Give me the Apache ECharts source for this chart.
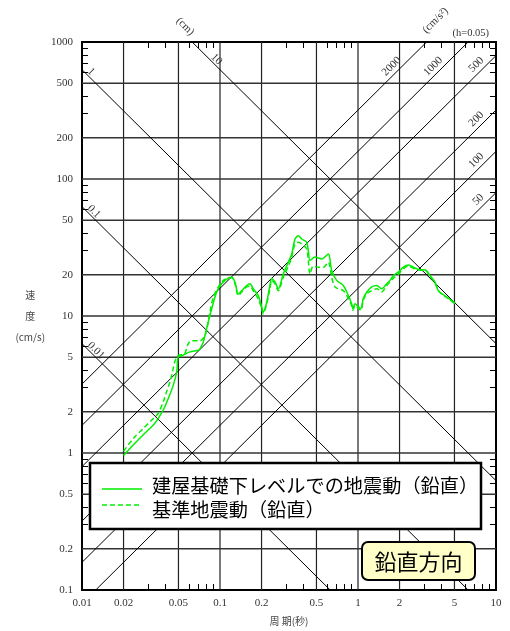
<!DOCTYPE html>
<html>
<head>
<meta charset="utf-8">
<script src="https://cdn.jsdelivr.net/npm/echarts@6/dist/echarts.min.js"></script>
<style>
html, body { margin: 0; padding: 0; background: #fff; }
#chart { width: 510px; height: 631px; }
</style>
</head>
<body>
<div id="chart"></div>
<script>
// 軸ラベル・目盛
const xLabels = [0.01, 0.02, 0.05, 0.1, 0.2, 0.5, 1, 2, 5, 10];
const yLabels = [0.1, 0.2, 0.5, 1, 2, 5, 10, 20, 50, 100, 200, 500, 1000];
const xMinor = [0.03, 0.04, 0.06, 0.07, 0.08, 0.09, 0.3, 0.4, 0.6, 0.7, 0.8, 0.9, 3, 4, 6, 7, 8, 9];
const yMinor = [0.3, 0.4, 0.6, 0.7, 0.8, 0.9, 3, 4, 6, 7, 8, 9, 30, 40, 60, 70, 80, 90, 300, 400, 600, 700, 800, 900];

// 変位 (cm) と加速度 (cm/s2) の斜線
const dispLines = [0.01, 0.1, 1, 10];
const accLines = [50, 100, 200, 500, 1000, 2000];

// 建屋基礎下レベルでの地震動（鉛直）
const periodA = [0.020, 0.0236, 0.0278, 0.0329, 0.0357, 0.0388, 0.0422, 0.0459, 0.0486, 0.0498,
    0.0528, 0.0606, 0.0696, 0.0716, 0.0757, 0.0779, 0.0822, 0.0871, 0.0946, 0.1028,
    0.1148, 0.1216, 0.1284, 0.1357, 0.1436, 0.156, 0.165, 0.174, 0.1894, 0.2006,
    0.206, 0.218, 0.230, 0.237, 0.2504, 0.2645, 0.2875, 0.3126, 0.331, 0.3496,
    0.3694, 0.391, 0.4246, 0.4365, 0.449, 0.4877, 0.5455, 0.6095, 0.6447, 0.701,
    0.7825, 0.8513, 0.8995, 0.92, 0.951, 1.046, 1.092, 1.156, 1.256, 1.366,
    1.486, 1.615, 1.706, 1.802, 1.959, 2.13, 2.315, 2.516, 2.81, 3.058,
    3.324, 3.614, 3.82, 4.15, 4.51, 5.05];
const velA = [0.96, 1.15, 1.36, 1.60, 1.79, 2.06, 2.50, 3.13, 3.92, 5.03,
    5.12, 5.47, 5.62, 5.78, 6.47, 7.23, 9.04, 11.3, 15.0, 17.2,
    18.9, 19.2, 17.7, 14.5, 15.3, 16.7, 17.2, 15.8, 14.1, 11.6,
    10.7, 12.6, 16.7, 18.7, 17.7, 15.8, 20.3, 24.7, 28.4, 36.5,
    38.5, 36.5, 34.5, 30.0, 25.4, 26.9, 26.1, 28.4, 21.5, 18.2,
    16.7, 14.1, 12.3, 11.3, 12.3, 11.3, 13.4, 14.9, 16.3, 16.7,
    15.8, 17.2, 18.2, 19.7, 20.9, 22.7, 23.6, 22.7, 21.8, 21.8,
    19.7, 17.7, 15.3, 14.3, 13.5, 12.4];

// 基準地震動（鉛直）
const periodB = [0.020, 0.0236, 0.0278, 0.032, 0.0357, 0.0388, 0.041, 0.0434, 0.0453, 0.047,
    0.0498, 0.055, 0.0589, 0.0625, 0.0716, 0.078, 0.0846, 0.0893, 0.0973, 0.1055,
    0.1148, 0.1216, 0.1284, 0.1357, 0.1436, 0.156, 0.165, 0.174, 0.1894, 0.2006,
    0.206, 0.218, 0.230, 0.237, 0.2504, 0.2645, 0.2875, 0.3126, 0.331, 0.3496,
    0.3694, 0.391, 0.4246, 0.4365, 0.449, 0.4734, 0.5187, 0.5622, 0.6095, 0.6447,
    0.6811, 0.7825, 0.8513, 0.8995, 0.92, 0.951, 1.046, 1.092, 1.156, 1.256,
    1.366, 1.486, 1.615, 1.706, 1.802, 1.959, 2.13, 2.315, 2.516, 2.81,
    3.058, 3.324, 3.614, 3.82, 4.15, 4.51, 5.05];
const velB = [1.03, 1.28, 1.51, 1.74, 1.95, 2.37, 2.80, 3.31, 3.92, 4.63,
    5.17, 5.25, 6.29, 6.6, 6.6, 7.23, 10.7, 13.7, 16.3, 18.2,
    18.9, 19.0, 17.2, 14.1, 15.0, 16.3, 16.5, 15.3, 13.3, 11.3,
    10.4, 12.3, 15.8, 18.2, 17.2, 15.3, 19.2, 23.1, 26.9, 33.6,
    34.5, 33.6, 30.9, 25.4, 20.3, 23.1, 22.7, 22.7, 24.7, 19.2,
    16.3, 15.3, 13.4, 11.9, 11.0, 11.9, 11.0, 13.0, 14.5, 15.3,
    15.8, 15.0, 16.7, 17.7, 18.9, 20.1, 22.1, 23.1, 22.3, 21.6,
    21.6, 19.5, 17.5, 15.3, 14.2, 13.4, 12.3];

const green = '#00ee00';
const serif = '"Liberation Serif", "DejaVu Serif", serif';
const cjk = '"Noto Sans CJK JP", "Noto Sans", sans-serif';
const fmt = v => String(parseFloat(Number(v).toPrecision(6)));

const chart = echarts.init(document.getElementById('chart'));

function tickAxis(pos, minor) {
    return {
        position: pos,
        axisLine: { show: false },
        axisTick: { show: true, customValues: minor, inside: true, length: 6, lineStyle: { color: '#000', width: 1 } },
        splitLine: { show: false },
        minorTick: { show: false }
    };
}

const xBase = { type: 'log', logBase: 10, min: 0.01, max: 10 };
const yBase = { type: 'log', logBase: 10, min: 0.1, max: 1000 };

// 斜線（変位・加速度）
const diagSeries = [];
dispLines.forEach(d => {
    diagSeries.push({
        type: 'line', silent: true, symbol: 'none', clip: true, z: 1,
        lineStyle: { color: '#000', width: 1 },
        data: [[0.001, 2 * Math.PI * d / 0.001], [100, 2 * Math.PI * d / 100]]
    });
});
accLines.forEach(a => {
    diagSeries.push({
        type: 'line', silent: true, symbol: 'none', clip: true, z: 1,
        lineStyle: { color: '#000', width: 1 },
        data: [[0.001, a * 0.001 / (2 * Math.PI)], [100, a * 100 / (2 * Math.PI)]]
    });
});

const option = {
    animation: false,
    grid: { left: 82, top: 42, width: 414, height: 550, show: true, borderColor: '#000', borderWidth: 2, backgroundColor: 'rgba(0,0,0,0)' },
    xAxis: [
        Object.assign({}, xBase, tickAxis('bottom', xMinor), {
            axisLabel: { customValues: xLabels, formatter: fmt, margin: 8, fontFamily: serif, fontSize: 11, color: '#333' },
            name: '周 期(秒)', nameLocation: 'middle', nameGap: 31,
            nameTextStyle: { fontFamily: cjk, fontSize: 10, color: '#444', verticalAlign: 'middle' }
        }),
        Object.assign({}, xBase, tickAxis('top', xMinor), { axisLabel: { show: false } })
    ],
    yAxis: [
        Object.assign({}, yBase, tickAxis('left', yMinor), {
            axisLabel: { customValues: yLabels, formatter: fmt, margin: 9, fontFamily: serif, fontSize: 11, color: '#333' },
            name: '速\n度\n(cm/s)', nameLocation: 'middle', nameRotate: 0, nameGap: 43,
            nameTextStyle: { fontFamily: cjk, fontSize: 10, color: '#444', align: 'center', verticalAlign: 'middle', lineHeight: 21 }
        }),
        Object.assign({}, yBase, tickAxis('right', yMinor), { axisLabel: { show: false } })
    ],
    series: [
        {   // 縦のグリッド線
            type: 'custom', silent: true, z: 1,
            data: xLabels.slice(1, -1).map(v => [v, 1]),
            renderItem: (params, api) => {
                const p = api.coord([api.value(0), 1]);
                const cs = params.coordSys;
                return { type: 'line', shape: { x1: p[0], y1: cs.y, x2: p[0], y2: cs.y + cs.height },
                    style: { stroke: '#222', lineWidth: 1.2 } };
            }
        },
        {   // 横のグリッド線
            type: 'custom', silent: true, z: 1,
            data: yLabels.slice(1, -1).map(v => [1, v]),
            renderItem: (params, api) => {
                const p = api.coord([1, api.value(1)]);
                const cs = params.coordSys;
                return { type: 'line', shape: { x1: cs.x, y1: p[1], x2: cs.x + cs.width, y2: p[1] },
                    style: { stroke: '#333', lineWidth: 1.5 } };
            }
        }
    ].concat(diagSeries, [
        {
            name: '建屋基礎下レベルでの地震動（鉛直）', type: 'line', symbol: 'none', smooth: 0.3, z: 3,
            lineStyle: { color: green, width: 1.5 },
            data: periodA.map((t, i) => [t, velA[i]])
        },
        {
            name: '基準地震動（鉛直）', type: 'line', symbol: 'none', smooth: 0.3, z: 3,
            lineStyle: { color: green, width: 1.5, type: [5, 3] },
            data: periodB.map((t, i) => [t, velB[i]])
        }
    ])
};
chart.setOption(option);

// 斜線ラベル・凡例など
const toPx = (t, v) => chart.convertToPixel({ xAxisIndex: 0, yAxisIndex: 0 }, [t, v]);
const R = Math.SQRT2;
const g = [];
function txt(x, y, text, font, align, rot, fill) {
    return {
        type: 'text', x: x, y: y, rotation: rot || 0, z: 100,
        style: { text: text, font: font, fill: fill || '#333', align: align, textAlign: align,
            verticalAlign: 'middle', textVerticalAlign: 'middle' }
    };
}

dispLines.forEach(d => {
    let t = 0.01, v = 2 * Math.PI * d / t, top = false;
    if (v > 1000) { v = 1000; t = 2 * Math.PI * d / 1000; top = true; }
    const p = toPx(t, v);
    const s = top ? 24 : 5, h = 5;
    g.push(txt(p[0] + (s + h) / R, p[1] + (s - h) / R, fmt(d), '11px ' + serif, 'left', -Math.PI / 4));
    if (top) {
        const s2 = -16, h2 = 6;
        g.push(txt(p[0] + (s2 + h2) / R, p[1] + (s2 - h2) / R, '(cm)', '11px ' + serif, 'center', -Math.PI / 4));
    }
});
accLines.forEach(a => {
    let t = 10, v = a * t / (2 * Math.PI), top = false;
    if (v > 1000) { v = 1000; t = 2 * Math.PI * 1000 / a; top = true; }
    const p = toPx(t, v);
    const s = top ? 31 : 12, h = 7.5;
    g.push(txt(p[0] - (s + h) / R, p[1] + (s - h) / R, fmt(a), '11px ' + serif, 'right', Math.PI / 4));
    if (a === 2000) {
        const s2 = -21.5, h2 = 8.9;
        g.push(txt(p[0] - (s2 + h2) / R, p[1] + (s2 - h2) / R, '(cm/s²)', '11px ' + serif, 'center', Math.PI / 4));
    }
});
const br = toPx(10, 1000);
g.push(txt(br[0] - 7, br[1] - 9, '(h=0.05)', '10.5px ' + serif, 'right'));

// 凡例
g.push({ type: 'rect', z: 100, shape: { x: 90, y: 463, width: 391, height: 66 },
    style: { fill: '#fff', stroke: '#000', lineWidth: 2.5 } });
g.push({ type: 'line', z: 101, shape: { x1: 102, y1: 489, x2: 142, y2: 489 },
    style: { stroke: green, lineWidth: 1.5 } });
g.push({ type: 'line', z: 101, shape: { x1: 102, y1: 505, x2: 142, y2: 505 },
    style: { stroke: green, lineWidth: 1.5, lineDash: [5, 3] } });
g.push(txt(152, 486, option.series[option.series.length - 2].name, '19.2px ' + cjk, 'left', 0, '#000'));
g.push(txt(152, 510, option.series[option.series.length - 1].name, '19.2px ' + cjk, 'left', 0, '#000'));
g[g.length - 1].z = 101; g[g.length - 2].z = 101;

// 方向ラベル
g.push({ type: 'rect', z: 100, shape: { x: 362, y: 542, width: 113, height: 38, r: 6 },
    style: { fill: '#ffffc8', stroke: '#000', lineWidth: 2 } });
const lab = txt(418.5, 561.5, '鉛直方向', '22px ' + cjk, 'center', 0, '#000');
lab.z = 101;
g.push(lab);

chart.setOption({ graphic: { elements: g } });
</script>
</body>
</html>
